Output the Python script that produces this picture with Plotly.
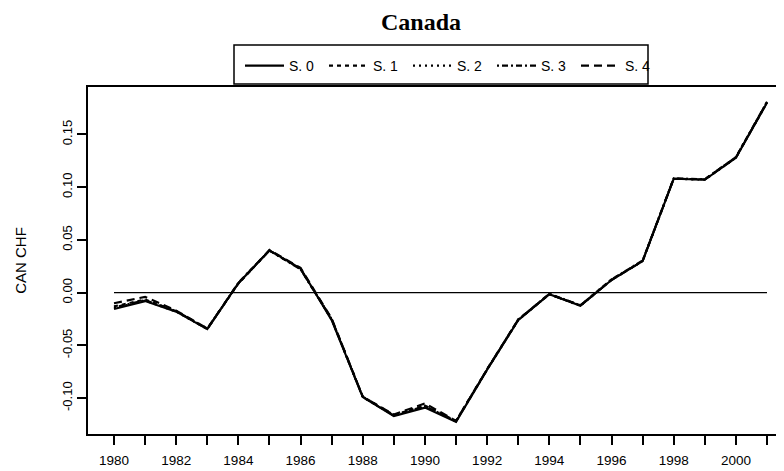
import plotly.graph_objects as go

years = list(range(1980, 2002))
s0 = [-0.0155, -0.0080, -0.0180, -0.0345, 0.0090, 0.0400, 0.0230, -0.0260, -0.0990, -0.1170, -0.1090,
      -0.1225, -0.0730, -0.0260, -0.0015, -0.0125, 0.0120, 0.0300, 0.1080, 0.1070, 0.1280, 0.1800]
s1 = [-0.0130, -0.0065, -0.0175, -0.0340, 0.0085, 0.0400, 0.0225, -0.0250, -0.0985, -0.1160, -0.1070,
      -0.1215, -0.0725, -0.0255, -0.0015, -0.0120, 0.0125, 0.0300, 0.1080, 0.1075, 0.1285, 0.1805]
s2 = [-0.0145, -0.0075, -0.0180, -0.0345, 0.0090, 0.0400, 0.0225, -0.0255, -0.0990, -0.1165, -0.1080,
      -0.1220, -0.0730, -0.0260, -0.0015, -0.0125, 0.0120, 0.0300, 0.1080, 0.1070, 0.1280, 0.1800]
s3 = [-0.0140, -0.0070, -0.0175, -0.0345, 0.0095, 0.0400, 0.0220, -0.0250, -0.0990, -0.1165, -0.1075,
      -0.1220, -0.0730, -0.0255, -0.0010, -0.0120, 0.0125, 0.0305, 0.1085, 0.1075, 0.1285, 0.1810]
s4 = [-0.0100, -0.0040, -0.0170, -0.0340, 0.0090, 0.0405, 0.0235, -0.0245, -0.0985, -0.1155, -0.1050,
      -0.1215, -0.0725, -0.0255, -0.0015, -0.0120, 0.0120, 0.0300, 0.1080, 0.1075, 0.1280, 0.1805]
series_names = ["S. 0", "S. 1", "S. 2", "S. 3", "S. 4"]
series_dash = ["solid", "4px,4px", "2px,4px", "2px,3px,6px,3px", "8px,5px"]
zero_line = [0.0] * len(years)

x_tickvals = years
x_ticktext = [str(y) if y % 2 == 0 else "" for y in years]
y_tickvals = [-0.10, -0.05, 0.00, 0.05, 0.10, 0.15]
y_ticktext = ["-0.10", "-0.05", "0.00", "0.05", "0.10", "0.15"]

SANS = "Liberation Sans, Arial, sans-serif"
SERIF = "Liberation Serif, Times New Roman, serif"

# page body has an 8px margin; figure sized so it ends at the window edge
W, H = 776, 463
OFF = 8
PL, PT, PB = 88 - OFF, 87 - OFF, 434 - OFF  # plot area in figure pixels
PW, PH = W - PL, PB - PT


def px_x(page_x):
    return (page_x - OFF - PL) / PW


def px_y(page_y):
    return (PB - (page_y - OFF)) / PH


fig = go.Figure()
fig.add_trace(go.Scatter(x=years, y=zero_line, mode="lines", line=dict(color="black", width=1.3),
                         showlegend=False, hoverinfo="skip"))
for name, data, dash in zip(series_names, [s0, s1, s2, s3, s4], series_dash):
    fig.add_trace(go.Scatter(x=years, y=data, mode="lines", name=name,
                             line=dict(color="black", width=2.1, dash=dash)))

fig.update_layout(
    width=W, height=H,
    margin=dict(l=PL, r=0, t=PT, b=H - PB, autoexpand=False),
    paper_bgcolor="white", plot_bgcolor="white",
    font=dict(family=SANS, size=13, color="black"),
    title=dict(text="<b>Canada</b>", x=(421 - OFF) / W, xanchor="center", y=1 - (22 - OFF) / H,
               yanchor="middle", font=dict(family=SERIF, size=24, color="black")),
    showlegend=True,
    legend=dict(orientation="h", x=px_x(240), xanchor="left", y=px_y(66), yanchor="middle",
                entrywidth=30, entrywidthmode="pixels", itemwidth=39,
                bgcolor="rgba(0,0,0,0)", borderwidth=0,
                font=dict(family=SANS, size=14, color="black"), itemclick=False),
    shapes=[dict(type="rect", xref="paper", yref="paper",
                 x0=px_x(234), x1=px_x(648), y0=px_y(84), y1=px_y(45),
                 line=dict(color="black", width=1.5), fillcolor="rgba(0,0,0,0)", layer="above")],
)
x_left = 1979.164
x_right = x_left + PW / 31.095
fig.update_xaxes(range=[x_left, x_right], showgrid=False, zeroline=False,
                 showline=True, mirror=True, linecolor="black", linewidth=1.5,
                 tickmode="array", tickvals=x_tickvals, ticktext=x_ticktext,
                 ticks="outside", ticklen=9, tickwidth=1.5, tickcolor="black", ticklabelstandoff=4,
                 tickfont=dict(family=SANS, size=13.5, color="black"))
fig.update_yaxes(range=[-0.134, 0.195], showgrid=False, zeroline=False,
                 showline=True, mirror=False, linecolor="black", linewidth=1.5,
                 tickmode="array", tickvals=y_tickvals, ticktext=y_ticktext, tickangle=-90,
                 ticks="outside", ticklen=9, tickwidth=1.5, tickcolor="black",
                 tickfont=dict(family=SANS, size=13, color="black"),
                 title=dict(text="CAN CHF", standoff=30, font=dict(family=SANS, size=15, color="black")))

fig.write_html("out.html")
